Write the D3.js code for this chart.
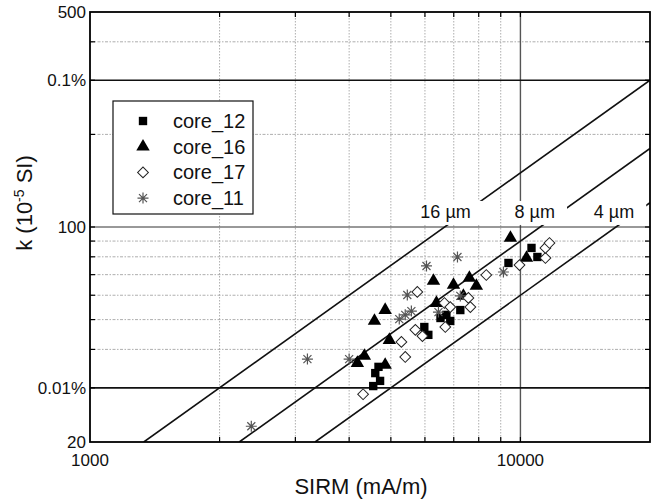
<!DOCTYPE html>
<html>
<head>
<meta charset="utf-8">
<script src="https://cdn.jsdelivr.net/npm/d3@7"></script>
<style>
  body { margin: 0; background: #fff; }
  svg { font-family: "Liberation Sans", Arial, sans-serif; }
</style>
</head>
<body>
<div id="container"></div>
<script>
// series: [SIRM (mA/m), k (10^-5 SI)]
const core12 = [[4550,30.4],[4720,31.6],[4600,33.5],[4680,35.1],[5980,47.3],[6110,44.6],[6520,50.6],[6730,51.8],[6870,49.5],[7250,53.7],[9380,76.4],[10610,85.5],[10950,79.9]];
const core16 = [[4180,36.1],[4340,38.1],[4850,35.6],[4580,49.5],[4850,53.7],[4960,42.9],[6280,66.8],[6380,56.6],[6990,64.8],[7370,59.7],[7610,68.3],[7900,64.3],[9480,92.1],[10330,79.3]];
const core17 = [[4310,28.6],[5400,37.8],[5290,42.3],[5700,46.3],[5920,44.2],[5760,61.5],[6660,56.6],[6870,54.9],[6690,47.3],[7570,58.8],[7650,54.9],[8330,69.8],[9950,75.2],[11430,79.3],[11430,85.5],[11680,88.7]];
const core11 = [[2370,22.5],[3200,37.2],[4000,37.2],[5230,50.2],[5400,51.8],[5580,53.3],[5460,60.1],[6050,74.7],[7140,79.9],[6450,52.9],[7250,59.7],[9130,71.4]];

const seriesNames = ["core_12", "core_16", "core_17", "core_11"];

// grain size lines k = ratio * SIRM
const lineRatios = [0.015, 0.009, 0.006];
const lineLabels = ["16 \u00b5m", "8 \u00b5m", "4 \u00b5m"];
const labelSirm = [6700, 10800, 16500];
const labelK = 107;

const xMinorTicks = [2000,3000,4000,5000,6000,7000,8000,9000];
const xLabelTicks = [1000, 10000];
const yMinorTicks = [400,200,90,80,70,60,50,40];
const yLabelTicks = [500, 300, 100, 30, 20];
const yTickText = ["500", "0.1%", "100", "0.01%", "20"];

const dimensions = {
	width: 658,
	height: 499,
	margin: { left: 90, right: 8, top: 12, bottom: 57 }
};
const innerW = dimensions.width - dimensions.margin.left - dimensions.margin.right;
const innerH = dimensions.height - dimensions.margin.top - dimensions.margin.bottom;

const svg = d3.select("#container")
	.append("svg")
	.attr("width", dimensions.width)
	.attr("height", dimensions.height);

const x = d3.scaleLog().domain([1000, 20000]).range([0, innerW]);
const y = d3.scaleLog().domain([20, 500]).range([innerH, 0]);

const g = svg.append("g")
	.attr("transform", `translate(${dimensions.margin.left},${dimensions.margin.top})`);

svg.append("defs").append("clipPath").attr("id", "plotClip")
	.append("rect").attr("width", innerW).attr("height", innerH);

// dotted grid
g.selectAll(".vgrid").data(xMinorTicks).enter().append("line")
	.attr("x1", d => x(d)).attr("x2", d => x(d))
	.attr("y1", 0).attr("y2", innerH)
	.attr("stroke", "#999").attr("stroke-width", 0.8)
	.attr("stroke-dasharray", "1.5,1.5");
g.selectAll(".hgrid").data(yMinorTicks).enter().append("line")
	.attr("x1", 0).attr("x2", innerW)
	.attr("y1", d => y(d)).attr("y2", d => y(d))
	.attr("stroke", "#999").attr("stroke-width", 0.8)
	.attr("stroke-dasharray", "3,1.5,1.5,1.5");

// solid reference lines
g.append("line").attr("x1", x(10000)).attr("x2", x(10000))
	.attr("y1", 0).attr("y2", innerH)
	.attr("stroke", "#555").attr("stroke-width", 1.4);
g.append("line").attr("x1", 0).attr("x2", innerW)
	.attr("y1", y(100)).attr("y2", y(100))
	.attr("stroke", "#333").attr("stroke-width", 1);
[300, 30].forEach(v => {
	g.append("line").attr("x1", 0).attr("x2", innerW)
		.attr("y1", y(v)).attr("y2", y(v))
		.attr("stroke", "#111").attr("stroke-width", 1.6);
});

// grain size lines
const lineG = g.append("g").attr("clip-path", "url(#plotClip)");
lineRatios.forEach(r => {
	const s0 = 20 / r, s1 = 20000;
	lineG.append("line")
		.attr("x1", x(s0)).attr("y1", y(20))
		.attr("x2", x(s1)).attr("y2", y(s1 * r))
		.attr("stroke", "#111").attr("stroke-width", 1.6);
});
lineLabels.forEach((t, i) => {
	const lg = g.append("g");
	const bg = lg.append("rect").attr("fill", "#fff");
	const txt = lg.append("text")
		.attr("x", x(labelSirm[i])).attr("y", y(labelK))
		.attr("text-anchor", "middle")
		.attr("font-size", 18)
		.attr("fill", "#111")
		.text(t);
	const b = txt.node().getBBox();
	bg.attr("x", b.x - 2).attr("y", b.y - 1)
		.attr("width", b.width + 14).attr("height", b.height + 4);
});

// markers
const sq = d3.symbol().type(d3.symbolSquare).size(70);
const tri = d3.symbol().type(d3.symbolTriangle).size(78);
const dia = d3.symbol().type(d3.symbolSquare).size(58);
const star = "M-5.5,0H5.5M0,-5.5V5.5M-4,-4L4,4M-4,4L4,-4";

function drawSquare(sel) { sel.append("path").attr("d", sq).attr("fill", "#000"); }
function drawTri(sel) { sel.append("path").attr("d", tri).attr("fill", "#000"); }
function drawDia(sel) {
	sel.append("path").attr("d", dia).attr("transform", "rotate(45)")
		.attr("fill", "#fff").attr("stroke", "#222").attr("stroke-width", 1);
}
function drawStar(sel) {
	sel.append("path").attr("d", star).attr("fill", "none")
		.attr("stroke", "#555").attr("stroke-width", 1.2);
}
const drawers = [drawSquare, drawTri, drawDia, drawStar];
const allSeries = [core12, core16, core17, core11];

allSeries.forEach((data, i) => {
	g.selectAll(".m" + i).data(data).enter().append("g")
		.attr("transform", d => `translate(${x(d[0])},${y(d[1])})`)
		.call(drawers[i]);
});

// frame and ticks
const tickLen = 5;
const allX = xMinorTicks.concat([10000]);
const allY = yMinorTicks.concat([300, 100, 30]);
allX.forEach(v => {
	g.append("line").attr("x1", x(v)).attr("x2", x(v)).attr("y1", innerH).attr("y2", innerH - tickLen).attr("stroke", "#000").attr("stroke-width", 1.2);
	g.append("line").attr("x1", x(v)).attr("x2", x(v)).attr("y1", 0).attr("y2", tickLen).attr("stroke", "#000").attr("stroke-width", 1.2);
});
allY.forEach(v => {
	g.append("line").attr("x1", 0).attr("x2", tickLen).attr("y1", y(v)).attr("y2", y(v)).attr("stroke", "#000").attr("stroke-width", 1.2);
	g.append("line").attr("x1", innerW).attr("x2", innerW - tickLen).attr("y1", y(v)).attr("y2", y(v)).attr("stroke", "#000").attr("stroke-width", 1.2);
});
g.append("rect").attr("width", innerW).attr("height", innerH)
	.attr("fill", "none").attr("stroke", "#000").attr("stroke-width", 1.8);

// tick labels
g.selectAll(".xl").data(xLabelTicks).enter().append("text")
	.attr("x", d => x(d)).attr("y", innerH + 24)
	.attr("text-anchor", "middle").attr("font-size", 17).attr("fill", "#111")
	.text(d => d);
g.selectAll(".yl").data(yLabelTicks).enter().append("text")
	.attr("x", -4).attr("y", d => y(d)).attr("dy", "0.36em")
	.attr("text-anchor", "end").attr("font-size", 17).attr("fill", "#111")
	.text((d, i) => yTickText[i]);

// axis titles
svg.append("text")
	.attr("x", 361).attr("y", 494)
	.attr("text-anchor", "middle").attr("font-size", 22).attr("fill", "#111")
	.text("SIRM (mA/m)");
const yt = svg.append("text")
	.attr("transform", "translate(32,203) rotate(-90)")
	.attr("text-anchor", "middle").attr("font-size", 22).attr("fill", "#111");
yt.append("tspan").text("k (10");
yt.append("tspan").attr("dy", -8).attr("font-size", 14).text("-5");
yt.append("tspan").attr("dy", 8).text(" SI)");

// legend
const legend = svg.append("g").attr("transform", "translate(113,101)");
legend.append("rect").attr("width", 140).attr("height", 113)
	.attr("fill", "#fff").attr("stroke", "#111").attr("stroke-width", 1.2);
seriesNames.forEach((name, i) => {
	const row = legend.append("g").attr("transform", `translate(30,${20 + i * 25.7})`);
	row.append("g").call(drawers[i]);
	row.append("text").attr("x", 30).attr("dy", "0.35em")
		.attr("font-size", 20).attr("fill", "#111").text(name);
});
</script>
</body>
</html>
